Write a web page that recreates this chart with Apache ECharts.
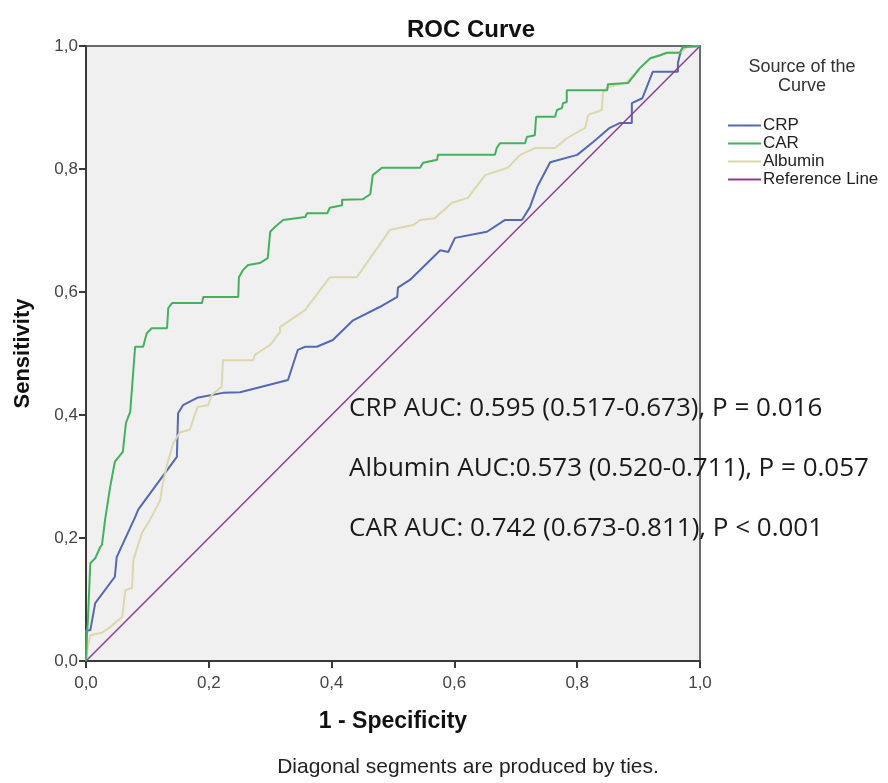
<!DOCTYPE html>
<html>
<head>
<meta charset="utf-8">
<title>ROC Curve</title>
<script src="https://cdn.jsdelivr.net/npm/echarts@6/dist/echarts.min.js"></script>
<style>
  html, body { margin: 0; padding: 0; background: #fff; }
  #chart { width: 888px; height: 783px; }
</style>
</head>
<body>
<div id="chart"></div>
<script>
'use strict';

// series names (legend order)
var seriesNames = ['CRP', 'CAR', 'Albumin', 'Reference Line'];

// [1 - specificity, sensitivity]
var crpPoints = [
  [0, 0], [0, 0.05], [0.007, 0.05], [0.015, 0.094], [0.047, 0.137], [0.05, 0.169],
  [0.08, 0.234], [0.085, 0.246], [0.148, 0.332], [0.15, 0.403], [0.158, 0.416],
  [0.181, 0.428], [0.223, 0.436], [0.251, 0.437], [0.329, 0.457], [0.345, 0.506],
  [0.357, 0.511], [0.376, 0.511], [0.402, 0.522], [0.435, 0.554], [0.479, 0.576],
  [0.507, 0.592], [0.508, 0.607], [0.528, 0.62], [0.577, 0.668], [0.59, 0.665],
  [0.601, 0.688], [0.653, 0.698], [0.682, 0.717], [0.71, 0.717], [0.723, 0.738],
  [0.735, 0.771], [0.756, 0.811], [0.8, 0.823], [0.826, 0.844], [0.853, 0.867],
  [0.87, 0.875], [0.889, 0.875], [0.889, 0.907], [0.906, 0.915], [0.923, 0.958],
  [0.964, 0.958], [0.964, 0.972], [0.967, 0.985], [0.972, 0.998], [1, 1]
];

var carPoints = [
  [0, 0], [0.002, 0.05], [0.003, 0.063], [0.007, 0.159], [0.015, 0.167], [0.023, 0.185],
  [0.026, 0.189], [0.031, 0.229], [0.039, 0.281], [0.047, 0.324], [0.06, 0.34],
  [0.065, 0.387], [0.072, 0.405], [0.08, 0.511], [0.093, 0.511], [0.099, 0.533],
  [0.107, 0.541], [0.132, 0.541], [0.134, 0.574], [0.14, 0.582], [0.189, 0.582],
  [0.191, 0.592], [0.248, 0.592], [0.249, 0.624], [0.256, 0.636], [0.264, 0.644],
  [0.283, 0.647], [0.296, 0.655], [0.3, 0.698], [0.308, 0.706], [0.321, 0.717],
  [0.357, 0.722], [0.36, 0.728], [0.393, 0.728], [0.397, 0.737], [0.417, 0.741],
  [0.417, 0.75], [0.451, 0.751], [0.463, 0.759], [0.467, 0.79], [0.482, 0.802],
  [0.544, 0.802], [0.549, 0.81], [0.572, 0.815], [0.573, 0.823], [0.666, 0.823],
  [0.669, 0.834], [0.674, 0.842], [0.715, 0.842], [0.718, 0.852], [0.731, 0.855],
  [0.733, 0.885], [0.764, 0.885], [0.767, 0.896], [0.775, 0.899], [0.777, 0.907],
  [0.783, 0.909], [0.783, 0.928], [0.849, 0.928], [0.85, 0.938], [0.883, 0.94],
  [0.902, 0.964], [0.919, 0.98], [0.935, 0.985], [0.946, 0.989], [0.967, 0.989],
  [0.972, 0.998], [1, 1]
];

var albuminPoints = [
  [0, 0], [0.003, 0.023], [0.007, 0.042], [0.026, 0.046], [0.039, 0.055], [0.059, 0.072],
  [0.064, 0.115], [0.075, 0.119], [0.077, 0.164], [0.091, 0.208], [0.104, 0.229],
  [0.121, 0.262], [0.124, 0.283], [0.132, 0.319], [0.142, 0.354], [0.153, 0.372],
  [0.169, 0.376], [0.178, 0.403], [0.182, 0.413], [0.199, 0.416], [0.205, 0.433],
  [0.221, 0.446], [0.223, 0.489], [0.272, 0.489], [0.275, 0.498], [0.3, 0.514],
  [0.316, 0.535], [0.316, 0.543], [0.357, 0.571], [0.397, 0.624], [0.441, 0.624],
  [0.495, 0.701], [0.533, 0.709], [0.544, 0.717], [0.568, 0.72], [0.596, 0.745],
  [0.622, 0.753], [0.65, 0.79], [0.687, 0.802], [0.707, 0.823], [0.731, 0.834],
  [0.764, 0.834], [0.783, 0.85], [0.813, 0.867], [0.818, 0.888], [0.84, 0.896],
  [0.842, 0.924], [0.849, 0.933], [0.881, 0.941], [0.902, 0.964], [0.919, 0.98],
  [0.935, 0.985], [0.946, 0.989], [0.967, 0.989], [0.979, 0.998], [1, 1]
];

var referencePoints = [[0, 0], [1, 1]];

var aucLines = [
  'CRP AUC: 0.595 (0.517-0.673), P = 0.016',
  'Albumin AUC:0.573 (0.520-0.711), P = 0.057',
  'CAR AUC: 0.742 (0.673-0.811), P < 0.001'
];

var colors = ['#5468b3', '#42b35c', '#dcd8aa', '#8c3f8f'];

var font = '"Liberation Sans", Arial, sans-serif';

function commaLabel(v) {
  return v.toFixed(1).replace('.', ',');
}

var chart = echarts.init(document.getElementById('chart'));

var lineSeries = [crpPoints, carPoints, albuminPoints, referencePoints].map(function (pts, i) {
  return {
    name: seriesNames[i],
    type: 'line',
    data: pts,
    showSymbol: false,
    symbol: 'none',
    silent: true,
    lineStyle: { color: colors[i], width: i === 3 ? 1.5 : 2 },
    itemStyle: { color: colors[i] },
    z: i === 1 ? 4 : 3
  };
});

var aucTexts = aucLines.map(function (t, i) {
  return {
    type: 'text',
    left: 349,
    top: 396 + i * 60,
    z: 1,
    style: {
      text: t,
      font: '26px "Open Sans", "Noto Sans", sans-serif',
      fill: '#1a1a1a'
    }
  };
});

chart.setOption({
  animation: false,
  backgroundColor: '#ffffff',
  title: {
    text: 'ROC Curve',
    left: 466,
    top: 13,
    textAlign: 'center',
    textStyle: { fontFamily: font, fontSize: 24, fontWeight: 'bold', color: '#111' }
  },
  grid: {
    left: 86, top: 46, width: 614, height: 615,
    show: true,
    backgroundColor: '#f0f0f0',
    borderColor: '#6a6a6a',
    borderWidth: 2
  },
  legend: {
    data: seriesNames,
    orient: 'vertical',
    left: 723,
    top: 112,
    icon: 'rect',
    itemWidth: 33,
    itemHeight: 2,
    itemGap: 1,
    selectedMode: false,
    textStyle: { fontFamily: font, fontSize: 17, color: '#222', padding: [0, 0, 0, -3] }
  },
  xAxis: {
    type: 'value',
    min: 0, max: 1, interval: 0.2,
    name: '1 - Specificity',
    nameLocation: 'middle',
    nameGap: 49,
    nameTextStyle: { fontFamily: font, fontSize: 23, fontWeight: 'bold', color: '#111' },
    axisLine: { show: true, lineStyle: { color: '#3a3a3a', width: 2 } },
    axisTick: { show: true, length: 7, lineStyle: { color: '#3a3a3a', width: 2 } },
    axisLabel: { formatter: commaLabel, fontFamily: font, fontSize: 17, color: '#444', margin: 14 },
    splitLine: { show: false }
  },
  yAxis: {
    type: 'value',
    min: 0, max: 1, interval: 0.2,
    name: 'Sensitivity',
    nameLocation: 'middle',
    nameGap: 52,
    nameTextStyle: { fontFamily: font, fontSize: 22, fontWeight: 'bold', color: '#111' },
    axisLine: { show: true, lineStyle: { color: '#3a3a3a', width: 2 } },
    axisTick: { show: true, length: 7, lineStyle: { color: '#3a3a3a', width: 2 } },
    axisLabel: { formatter: commaLabel, fontFamily: font, fontSize: 17, color: '#444', margin: 8 },
    splitLine: { show: false }
  },
  graphic: [
    {
      type: 'text',
      x: 802,
      y: 58,
      style: {
        text: 'Source of the\nCurve',
        font: '18px ' + font,
        fill: '#333',
        align: 'center',
        lineHeight: 19
      }
    },
    {
      type: 'text',
      x: 468,
      y: 757,
      style: {
        text: 'Diagonal segments are produced by ties.',
        font: '21px ' + font,
        fill: '#222',
        align: 'center'
      }
    }
  ].concat(aucTexts),
  series: lineSeries
});
</script>
</body>
</html>
